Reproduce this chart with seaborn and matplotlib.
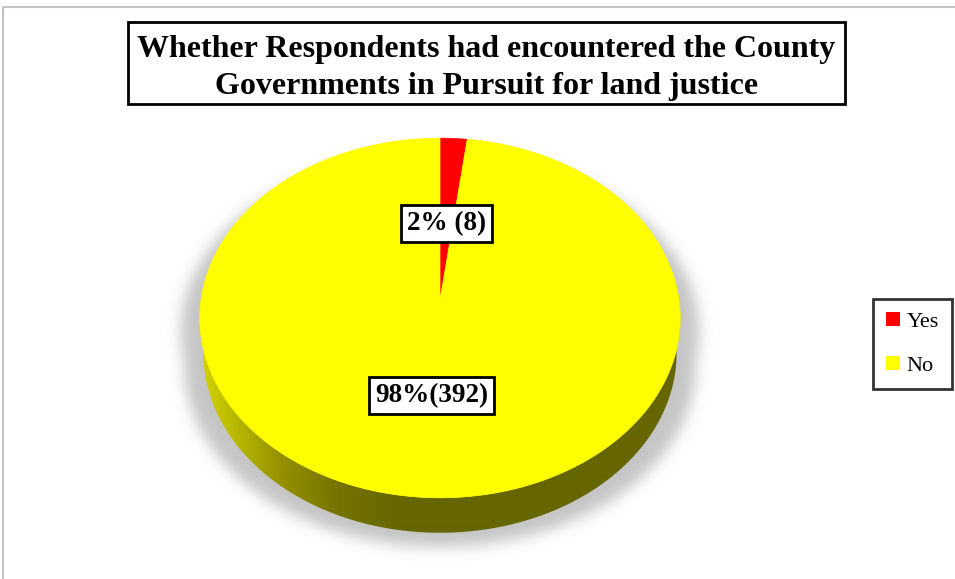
import numpy as np
import matplotlib
matplotlib.use("Agg")
import matplotlib.pyplot as plt
import seaborn as sns
from matplotlib.patches import Polygon, Rectangle, Patch
from matplotlib.path import Path
from matplotlib.lines import Line2D

# ---- data ----
categories = ["Yes", "No"]
counts = [8, 392]
value_labels = ["2% (8)", "98%(392)"]
title_lines = ["Whether Respondents had encountered the County",
               "Governments in Pursuit for land justice"]
slice_hex = ["#FF0000", "#FFFF00"]

sns.set_style("white")
plt.rcParams["font.family"] = ["Liberation Serif", "DejaVu Serif"]
plt.rcParams["text.color"] = "black"
slice_colors = sns.color_palette(slice_hex)

W, H = 955, 579
fig = plt.figure(figsize=(W / 100, H / 100), dpi=100)
ax = fig.add_axes([0, 0, 1, 1])
ax.set_xlim(0, W)
ax.set_ylim(H, 0)
ax.axis("off")

# outer chart frame (top and left edges)
ax.add_line(Line2D([3, W], [7, 7], color="#c4c4c4", lw=1.5))
ax.add_line(Line2D([3, 3], [7, H], color="#c4c4c4", lw=1.5))

# ---- tilted-disc projection ----
CX, CY, RX, RY, K, DEPTH = 440, 300, 239, 178, 0.1, 35


def project(theta_deg, r=1.0, drop=0.0):
    t = np.radians(theta_deg)
    u = r * np.sin(t)
    v = -r * np.cos(t)
    w = 1 - K * v
    x = CX + RX * u / w
    y = CY + RY * v / w
    if drop:
        x = CX + (x - CX) * 0.985
        y = y + drop
    return x, y


full = np.linspace(0, 360, 361)
top_x, top_y = project(full)
front = np.linspace(80, 280, 201)
fx, fy = project(front)
bx, by = project(front, drop=DEPTH)
side_xy = np.column_stack([np.r_[fx, bx[::-1]], np.r_[fy, by[::-1]]])
top_xy = np.column_stack([top_x, top_y])

# ---- soft drop shadow ----
gx, gy = np.meshgrid(np.arange(W) + 0.5, np.arange(H) + 0.5)
pts = np.column_stack([gx.ravel(), gy.ravel()])


def shifted(xy, sx=1.08, dy=14):
    return np.column_stack([CX + (xy[:, 0] - CX) * sx, xy[:, 1] + dy])


mask = (Path(shifted(top_xy)).contains_points(pts) |
        Path(shifted(side_xy)).contains_points(pts)).reshape(H, W).astype(float)
sigma = 7
ks = np.arange(-3 * sigma, 3 * sigma + 1)
kern = np.exp(-0.5 * (ks / sigma) ** 2)
kern /= kern.sum()
blur = np.zeros_like(mask)
for k, wgt in zip(ks, kern):
    blur += wgt * np.roll(mask, k, axis=1)
blur2 = np.zeros_like(blur)
for k, wgt in zip(ks, kern):
    blur2 += wgt * np.roll(blur, k, axis=0)
shadow = np.zeros((H, W, 4))
shadow[..., :3] = 0.5
shadow[..., 3] = blur2 * 0.45
ax.imshow(shadow, extent=[0, W, H, 0], origin="upper", zorder=1,
          interpolation="bilinear")
ax.set_xlim(0, W)
ax.set_ylim(H, 0)

# ---- side wall with shading ----
side_patch = Polygon(side_xy, closed=True, facecolor="none", edgecolor="none", zorder=2)
ax.add_patch(side_patch)
stops_x = [195, 230, 280, 340, 400, 700]
stops_c = np.array([[0.84, 0.84, 0.0], [0.74, 0.74, 0.0], [0.58, 0.57, 0.0],
                    [0.46, 0.45, 0.0], [0.40, 0.40, 0.0], [0.40, 0.40, 0.0]])
xs = np.arange(W) + 0.5
grad = np.stack([np.interp(xs, stops_x, stops_c[:, i]) for i in range(3)], axis=-1)
grad_img = np.repeat(grad[None, :, :], 2, axis=0)
im = ax.imshow(grad_img, extent=[0, W, 560, 280], origin="upper", zorder=2,
               interpolation="bilinear")
im.set_clip_path(side_patch)
ax.set_xlim(0, W)
ax.set_ylim(H, 0)

# ---- top face slices ----
total = float(sum(counts))
start = 0.0
mids = []
for cnt, col in zip(counts, slice_colors):
    span = 360.0 * cnt / total
    th = np.linspace(start, start + span, max(int(span * 2), 4))
    ax_, ay_ = project(th)
    poly = np.column_stack([np.r_[CX, ax_], np.r_[CY, ay_]])
    ax.add_patch(Polygon(poly, closed=True, facecolor=col, edgecolor=col,
                         lw=0.5, zorder=3))
    mids.append(start + span / 2)
    start += span

# ---- value labels ----
label_r = [0.45, 0.51]
for mid, r, txt in zip(mids, label_r, value_labels):
    lx, ly = project(mid, r=r)
    ax.text(lx, ly, txt, ha="center", va="center", fontsize=19.5,
            fontweight="bold", color="black", zorder=5,
            bbox=dict(boxstyle="square,pad=0.22", fc="white", ec="black", lw=2))

# ---- title ----
ax.add_patch(Rectangle((128, 22), 717, 82, facecolor="white", edgecolor="black",
                       lw=2, zorder=5))
ax.text(486.5, 68, "\n".join(title_lines), ha="center", va="center",
        fontsize=23, fontweight="bold", color="black", linespacing=1.32, zorder=6)

# ---- legend ----
handles = [Patch(facecolor=c, edgecolor="none", label=n)
           for n, c in zip(categories, slice_colors)]
leg = fig.legend(handles=handles, loc="center left",
                 bbox_to_anchor=(873 / W, 1 - 344 / H), frameon=True,
                 fancybox=False, fontsize=16, handlelength=0.6,
                 handleheight=0.6, handletextpad=0.3, labelspacing=1.1,
                 borderpad=0.6, borderaxespad=0, labelcolor="black")
leg.get_frame().set_edgecolor("black")
leg.get_frame().set_linewidth(2)

fig.savefig("out.png", dpi=100, facecolor="white")
